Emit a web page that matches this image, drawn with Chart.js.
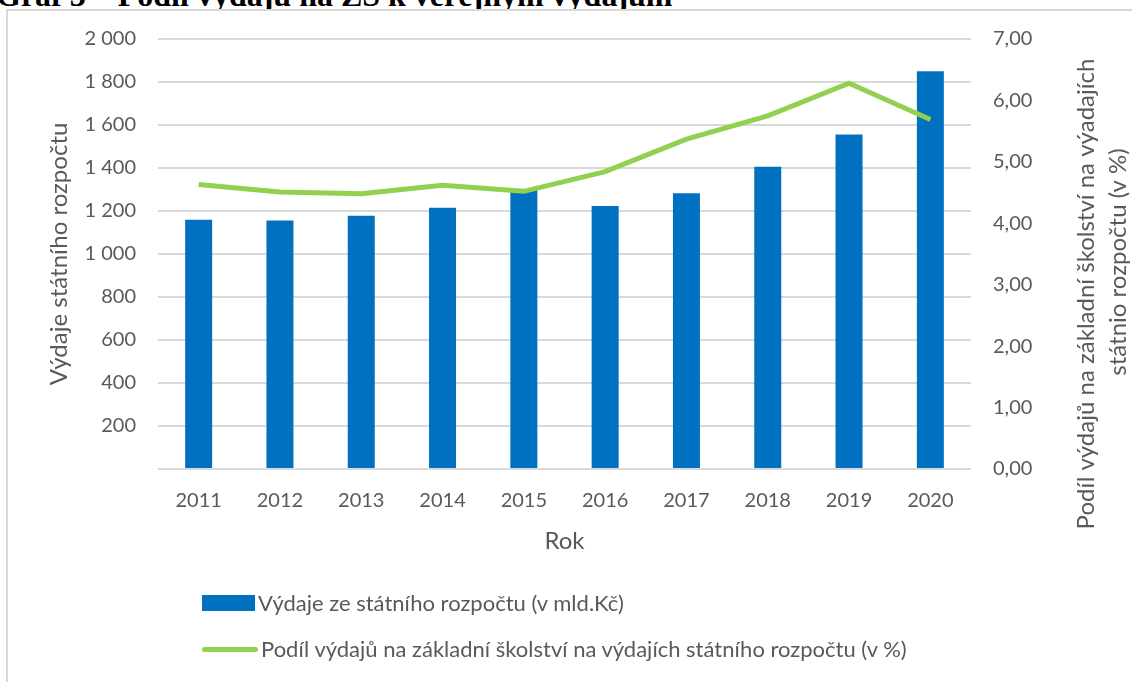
<!DOCTYPE html>
<html lang="cs">
<head>
<meta charset="utf-8">
<script src="https://cdn.jsdelivr.net/npm/chart.js@4.4.1/dist/chart.umd.min.js"></script>
<style>
body{
margin:0;
width:1132px;
height:682px;
overflow:hidden;
background:#fff;
font-family:Lato,'Open Sans',sans-serif;
}
#nadpis{
position:absolute;
left:-4px;
top:-21px;
font-family:'Liberation Serif',serif;
font-weight:bold;
font-size:32px;
line-height:32px;
color:#000;
white-space:nowrap;
}
#ramecek{
position:absolute;
left:6px;
top:9px;
width:1200px;
height:800px;
border:2px solid #d9d9d9;
background:#fff;
}
#obal{
position:absolute;
left:0;
top:0;
width:1132px;
height:682px;
}
.legenda{
position:absolute;
left:202px;
font-size:22px;
line-height:26px;
color:#595959;
white-space:nowrap;
}
.legenda span.znak{
display:inline-block;
vertical-align:middle;
margin-right:3px;
position:relative;
top:-2px;
}
</style>
</head>
<body>
<div id="nadpis">Graf 3 – Podíl výdajů na ZŠ k veřejným výdajům</div>
<div id="ramecek"></div>
<div id="obal"><canvas id="graf"></canvas></div>
<div id="leg1" class="legenda" style="top:590px"></div>
<div id="leg2" class="legenda" style="top:636px"></div>
<script>

const roky = ['2011','2012','2013','2014','2015','2016','2017','2018','2019','2020'];

// výdaje ze státního rozpočtu (mld. Kč)
const vydaje = [1159,1156,1178,1215,1298,1223,1283,1406,1556,1850];

// podíl výdajů na základní školství (%)
const podil = [4.63,4.51,4.48,4.62,4.52,4.84,5.37,5.75,6.28,5.69];

const nazevVydaje = 'Výdaje ze státního rozpočtu (v mld.Kč)';
const nazevPodil = 'Podíl výdajů na základní školství na výdajích státního rozpočtu (v %)';

const titulLevy = 'Výdaje státního rozpočtu';
const titulPravy = ['Podíl výdajů na základní školství na výadajích','státnio rozpočtu (v %)'];
const titulX = 'Rok';

const modra = '#0070C0';
const zelena = '#92D050';
const sedaText = '#595959';
const sedaMrizka = '#d9d9d9';

function tisice(v){
if(v === 0){
return '';
}
return String(v).replace(/\B(?=(\d{3})+(?!\d))/g,' ');
}

// titulek pravé osy čtený zdola nahoru
const pravyTitul = {
id:'pravyTitul',
afterDraw(chart){
const ctx = chart.ctx;
ctx.save();
ctx.fillStyle = sedaText;
ctx.font = '24px Lato';
ctx.textAlign = 'center';
ctx.textBaseline = 'middle';
const pozice = [[1086,294],[1118,262]];
titulPravy.forEach((t,i)=>{
ctx.save();
ctx.translate(pozice[i][0],pozice[i][1]);
ctx.rotate(-Math.PI/2);
ctx.fillText(t,0,0);
ctx.restore();
});
ctx.restore();
}
};

const ctx = document.getElementById('graf');

new Chart(ctx,{

type:'bar',

data:{

labels:roky,

datasets:[
{
type:'line',
label:nazevPodil,
data:podil,
yAxisID:'y1',
borderColor:zelena,
backgroundColor:zelena,
borderWidth:5,
pointRadius:0,
tension:0,
order:0
},
{
type:'bar',
label:nazevVydaje,
data:vydaje,
yAxisID:'y',
backgroundColor:modra,
categoryPercentage:1,
barPercentage:0.332,
order:1
}
]

},

options:{

responsive:true,
maintainAspectRatio:false,
animation:false,

layout:{
padding:{left:0,top:39,right:0,bottom:113}
},

plugins:{
legend:{display:false},
tooltip:{enabled:false}
},

scales:{

x:{
grid:{display:false,drawTicks:false},
border:{display:false},
ticks:{
color:sedaText,
font:{family:'Lato',size:20},
padding:20
},
title:{
display:true,
text:titulX,
color:sedaText,
font:{family:'Lato',size:24},
padding:{top:0,bottom:13}
},
afterFit(s){ s.height = 100; }
},

y:{
position:'left',
min:0,
max:2000,
grid:{color:sedaMrizka,lineWidth:2,drawTicks:false},
border:{display:false},
ticks:{
stepSize:200,
color:sedaText,
font:{family:'Lato',size:20},
padding:22,
callback:(v)=>tisice(v)
},
title:{
display:true,
text:titulLevy,
color:sedaText,
font:{family:'Lato',size:24},
padding:{top:45,bottom:0}
},
afterFit(s){ s.width = 158; }
},

y1:{
position:'right',
min:0,
max:7,
grid:{display:false,drawTicks:false},
border:{display:false},
ticks:{
stepSize:1,
color:sedaText,
font:{family:'Lato',size:20},
padding:22,
callback:(v)=>v.toFixed(2).replace('.',',')
},
afterFit(s){ s.width = 161; }
}

}

},

plugins:[pravyTitul]

});

document.getElementById('leg1').innerHTML =
'<span class="znak" style="width:53px;height:16px;background:'+modra+'"></span>'+nazevVydaje;

document.getElementById('leg2').innerHTML =
'<span class="znak" style="width:56px;height:5px;border-radius:3px;background:'+zelena+'"></span>'+nazevPodil;

</script>
</body>
</html>
